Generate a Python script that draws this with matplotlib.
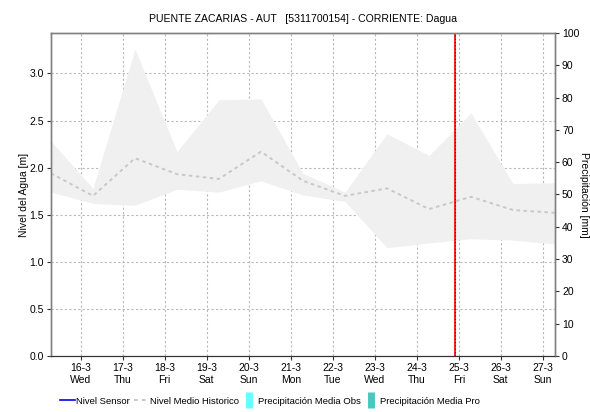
import pandas as pd
import numpy as np
import matplotlib
matplotlib.use("Agg")
import matplotlib.pyplot as plt
from matplotlib.lines import Line2D

plt.rcParams["font.family"] = ["Liberation Sans", "DejaVu Sans"]
plt.rcParams["font.size"] = 7.5

# daily readings, 07:00 each day
fechas = pd.date_range("2016-03-15 07:00", "2016-03-27 07:00", freq="D")
banda_max = [2.28, 1.78, 3.26, 2.17, 2.72, 2.73, 1.94, 1.74, 2.36, 2.13, 2.58, 1.83, 1.84]
banda_min = [1.74, 1.62, 1.60, 1.77, 1.74, 1.86, 1.71, 1.64, 1.15, 1.20, 1.245, 1.23, 1.19]
nivel_medio = [1.94, 1.70, 2.10, 1.93, 1.88, 2.17, 1.86, 1.70, 1.78, 1.56, 1.69, 1.55, 1.52]
ahora = pd.Timestamp("2016-03-24 21:50")

dias = pd.date_range("2016-03-16", "2016-03-27", freq="D")
dias_lbl = ["{}-{}\n{}".format(d.day, d.month, d.strftime("%a")) for d in dias]

fig = plt.figure(figsize=(5.9, 4.12), dpi=100)
ax = fig.add_axes([0.0864, 0.136, 0.8543, 0.784])
ax2 = ax.twinx()

ax.fill_between(fechas, banda_min, banda_max, color="#f0f0f0", linewidth=0, zorder=1)
ax.plot(fechas, nivel_medio, color="#c8c8c8", linestyle=(0, (1.8, 1.8)), linewidth=1.4, zorder=3)

ax.axvline(ahora, color="#ff2020", linewidth=1.4, zorder=5)
ax.axvline(ahora, color="#8b0000", linewidth=0.8, linestyle=(0, (1, 2)), zorder=6)

ax.set_xlim(fechas[0], fechas[-1])
ax.set_ylim(0, 3.43)
ax.set_yticks(np.arange(0, 3.01, 0.5))
ax.set_yticklabels(["{:.1f}".format(v) for v in np.arange(0, 3.01, 0.5)])
ax.set_xticks(dias)
ax.set_xticklabels(dias_lbl, linespacing=1.25)
ax.set_ylabel("Nivel del Agua [m]", labelpad=0.5)

ax.grid(True, color="#b8b8b8", linestyle=(0, (2, 2)), linewidth=0.8)
ax.set_axisbelow(True)
ax.tick_params(axis="both", length=3, color="#333333", pad=2)

ax2.set_ylim(0, 100)
ax2.set_yticks(np.arange(0, 101, 10))
ax2.set_ylabel("Precipitación [mm]", rotation=-90, labelpad=7)
ax2.tick_params(axis="y", length=3, color="#333333", pad=2)

for a in (ax, ax2):
    for s in ("left", "top", "right"):
        a.spines[s].set_color("#808080")
        a.spines[s].set_linewidth(1.0)
    a.spines["bottom"].set_color("#333333")
    a.spines["bottom"].set_linestyle((0, (1, 1)))

ax.set_title("PUENTE ZACARIAS - AUT   [5311700154] - CORRIENTE: Dagua", fontsize=7.6, pad=8)

handles = [
    Line2D([], [], color="#0000ee", linewidth=1.2),
    Line2D([], [], color="#c8c8c8", linestyle=(0, (2, 2)), linewidth=1.4),
    Line2D([], [], color="#66ffff", marker="|", markersize=11, markeredgewidth=5, linestyle="none"),
    Line2D([], [], color="#48c8c0", marker="|", markersize=11, markeredgewidth=5, linestyle="none"),
]
labels = ["Nivel Sensor", "Nivel Medio Historico", "Precipitación Media Obs", "Precipitación Media Pro"]
fig.legend(handles, labels, loc="center", bbox_to_anchor=(0.458, 0.026), ncol=4, frameon=False,
           handlelength=1.5, handletextpad=0.2, columnspacing=0.35, fontsize=6.8)

fig.savefig("out.png", dpi=100)
